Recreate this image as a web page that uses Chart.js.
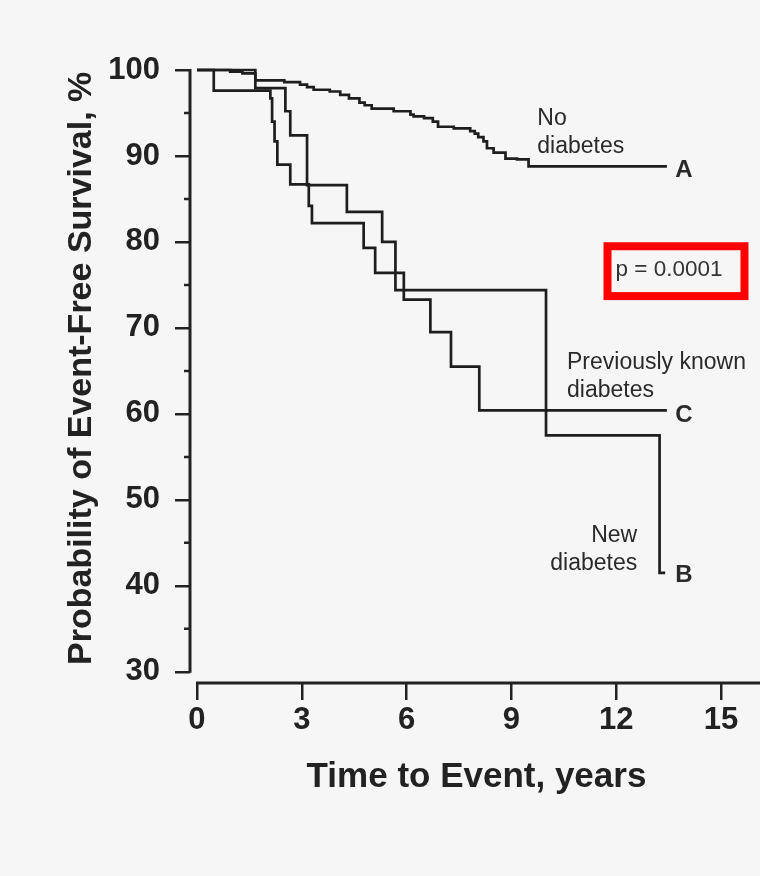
<!DOCTYPE html>
<html>
<head>
<meta charset="utf-8">
<script src="https://cdn.jsdelivr.net/npm/chart.js@4.4.1/dist/chart.umd.min.js"></script>
<style>
  html, body { margin: 0; padding: 0; background: #f6f6f6; }
  #wrap { width: 760px; height: 876px; position: relative; }
</style>
</head>
<body>
<div id="wrap"><canvas id="kmChart"></canvas></div>
<script>
// Kaplan-Meier curves (time in years, event-free survival in %)
const timeA = [0, 0.95, 1.3, 1.67, 2.5, 2.95, 3.15, 3.34, 3.8, 4.1, 4.35, 4.65, 4.8, 5.0, 5.63, 6.11, 6.2, 6.5, 6.75, 6.9, 7.35, 7.82, 7.95, 8.05, 8.2, 8.3, 8.49, 8.83, 9.16, 9.49, 13.45];
const survA = [100, 99.8, 99.6, 98.8, 98.6, 98.3, 98.0, 97.7, 97.5, 97.1, 96.7, 96.2, 95.9, 95.5, 95.2, 94.8, 94.6, 94.4, 94.0, 93.4, 93.2, 92.9, 92.6, 92.2, 91.7, 90.9, 90.4, 89.7, 89.6, 88.8, 88.8];

// B = new diabetes
const timeB = [0, 1.67, 2.53, 2.67, 3.15, 4.29, 5.30, 5.68, 9.99, 13.24, 13.4];
const survB = [100, 97.9, 95.2, 92.4, 86.6, 83.5, 80.0, 74.4, 57.5, 41.5, 41.5];

// C = previously known diabetes
const timeC = [0, 0.48, 2.10, 2.15, 2.22, 2.30, 2.67, 3.20, 3.29, 4.77, 5.10, 5.92, 6.68, 7.27, 8.08, 13.45];
const survC = [100, 97.6, 96.7, 94.0, 91.7, 89.0, 86.7, 84.2, 82.2, 79.3, 76.4, 73.3, 69.5, 65.5, 60.4, 60.4];

const xTicks = [0, 3, 6, 9, 12, 15];
const yMajorTicks = [30, 40, 50, 60, 70, 80, 90, 100];
const yMinorTicks = [35, 45, 55, 65, 75, 85, 95];

const xTitle = 'Time to Event, years';
const yTitle = 'Probability of Event-Free Survival, %';
const pValueText = 'p = 0.0001';

const ink = '#222222';
const fontFam = '"Liberation Sans", Arial, Helvetica, sans-serif';

Chart.defaults.font.family = fontFam;
Chart.defaults.color = ink;

// text labels next to the curves (anchored in data units)
const curveLabels = [
  { text: ['No', 'diabetes'], t: 9.74, s: 93.6, align: 'left' },
  { text: ['Previously known', 'diabetes'], t: 10.59, s: 65.2, align: 'left' },
  { text: ['New', 'diabetes'], t: 12.6, s: 45.1, align: 'right' }
];
const curveLetters = [
  { text: 'A', t: 13.69, s: 88.4 },
  { text: 'C', t: 13.69, s: 60.0 },
  { text: 'B', t: 13.69, s: 41.3 }
];

function toPoints(ts, ss) {
  return ts.map((t, i) => ({ x: t, y: ss[i] }));
}

const kmDecor = {
  id: 'kmDecor',
  afterDraw(chart) {
    const { ctx, chartArea, scales: { x, y } } = chart;
    ctx.save();

    // axes: y stops at 30, x starts at 0 (detached, like the print)
    ctx.strokeStyle = ink;
    ctx.lineWidth = 3;
    ctx.beginPath();
    ctx.moveTo(chartArea.left, y.getPixelForValue(100) - 1);
    ctx.lineTo(chartArea.left, y.getPixelForValue(30) + 1);
    ctx.moveTo(x.getPixelForValue(0) - 1, chartArea.bottom);
    ctx.lineTo(chart.width, chartArea.bottom);
    ctx.stroke();

    // short minor ticks on y
    ctx.lineWidth = 2.5;
    ctx.beginPath();
    yMinorTicks.forEach(v => {
      const py = y.getPixelForValue(v);
      ctx.moveTo(chartArea.left - 6, py);
      ctx.lineTo(chartArea.left, py);
    });
    ctx.stroke();

    // axis titles
    ctx.fillStyle = ink;
    ctx.textAlign = 'center';
    ctx.textBaseline = 'middle';
    ctx.font = 'bold 35px ' + fontFam;
    ctx.fillText(xTitle, x.getPixelForValue(8.0), chartArea.bottom + 94);
    ctx.save();
    ctx.translate(82, y.getPixelForValue(65.3));
    ctx.rotate(-Math.PI / 2);
    ctx.font = 'bold 34px ' + fontFam;
    ctx.fillText(yTitle, 0, 0);
    ctx.restore();

    // curve descriptions
    ctx.fillStyle = '#2a2a2a';
    ctx.font = '23px ' + fontFam;
    ctx.textBaseline = 'alphabetic';
    curveLabels.forEach(l => {
      ctx.textAlign = l.align;
      const px = x.getPixelForValue(l.t);
      const py = y.getPixelForValue(l.s);
      l.text.forEach((line, i) => ctx.fillText(line, px, py + i * 28));
    });

    ctx.font = 'bold 24px ' + fontFam;
    ctx.textAlign = 'left';
    ctx.textBaseline = 'middle';
    curveLetters.forEach(l => {
      ctx.fillText(l.text, x.getPixelForValue(l.t), y.getPixelForValue(l.s) + 1);
    });

    // red box around the p value
    const bx1 = x.getPixelForValue(11.75), bx2 = x.getPixelForValue(15.67);
    const by1 = y.getPixelForValue(79.5), by2 = y.getPixelForValue(73.7);
    ctx.strokeStyle = '#ff0000';
    ctx.lineWidth = 8;
    ctx.strokeRect(bx1, by1, bx2 - bx1, by2 - by1);
    ctx.fillStyle = '#333333';
    ctx.font = '22.5px ' + fontFam;
    ctx.textBaseline = 'alphabetic';
    ctx.fillText(pValueText, x.getPixelForValue(11.98), y.getPixelForValue(76.05));

    ctx.restore();
  }
};

const lineStyle = {
  borderColor: '#1e1e1e',
  borderWidth: 2.7,
  pointRadius: 0,
  stepped: 'before',
  fill: false,
  clip: false
};

const ctx = document.getElementById('kmChart').getContext('2d');

const chart = new Chart(ctx, {
  type: 'line',
  data: {
    datasets: [
      { label: 'No diabetes', data: toPoints(timeA, survA), ...lineStyle },
      { label: 'New diabetes', data: toPoints(timeB, survB), ...lineStyle },
      { label: 'Previously known diabetes', data: toPoints(timeC, survC), ...lineStyle }
    ]
  },
  options: {
    responsive: true,
    maintainAspectRatio: false,
    animation: false,
    events: [],
    layout: { padding: { left: 0, right: 4, top: 70, bottom: 0 } },
    plugins: {
      legend: { display: false },
      tooltip: { enabled: false }
    },
    scales: {
      x: {
        type: 'linear',
        min: -0.2,
        max: 16,
        afterBuildTicks: s => { s.ticks = xTicks.map(v => ({ value: v })); },
        afterFit: s => { s.height = 193; },
        border: { display: false },
        grid: { drawOnChartArea: false, tickLength: 17, lineWidth: 2.5, color: ink },
        ticks: { padding: 2, maxRotation: 0, autoSkip: false, color: ink, font: { size: 31, weight: 'bold' } }
      },
      y: {
        type: 'linear',
        min: 28.7,
        max: 100,
        afterBuildTicks: s => {
          s.ticks = yMajorTicks.concat(yMinorTicks).sort((a, b) => a - b).map(v => ({ value: v }));
        },
        afterFit: s => { s.width = 190; },
        border: { display: false },
        grid: {
          drawOnChartArea: false,
          tickLength: 15,
          lineWidth: 2.5,
          color: c => (c.tick && c.tick.value % 10 === 0) ? ink : 'rgba(0,0,0,0)'
        },
        ticks: {
          padding: 15,
          color: ink,
          font: { size: 31, weight: 'bold' },
          callback: v => (v % 10 === 0 ? String(v) : '')
        }
      }
    }
  },
  plugins: [kmDecor]
});
</script>
</body>
</html>
